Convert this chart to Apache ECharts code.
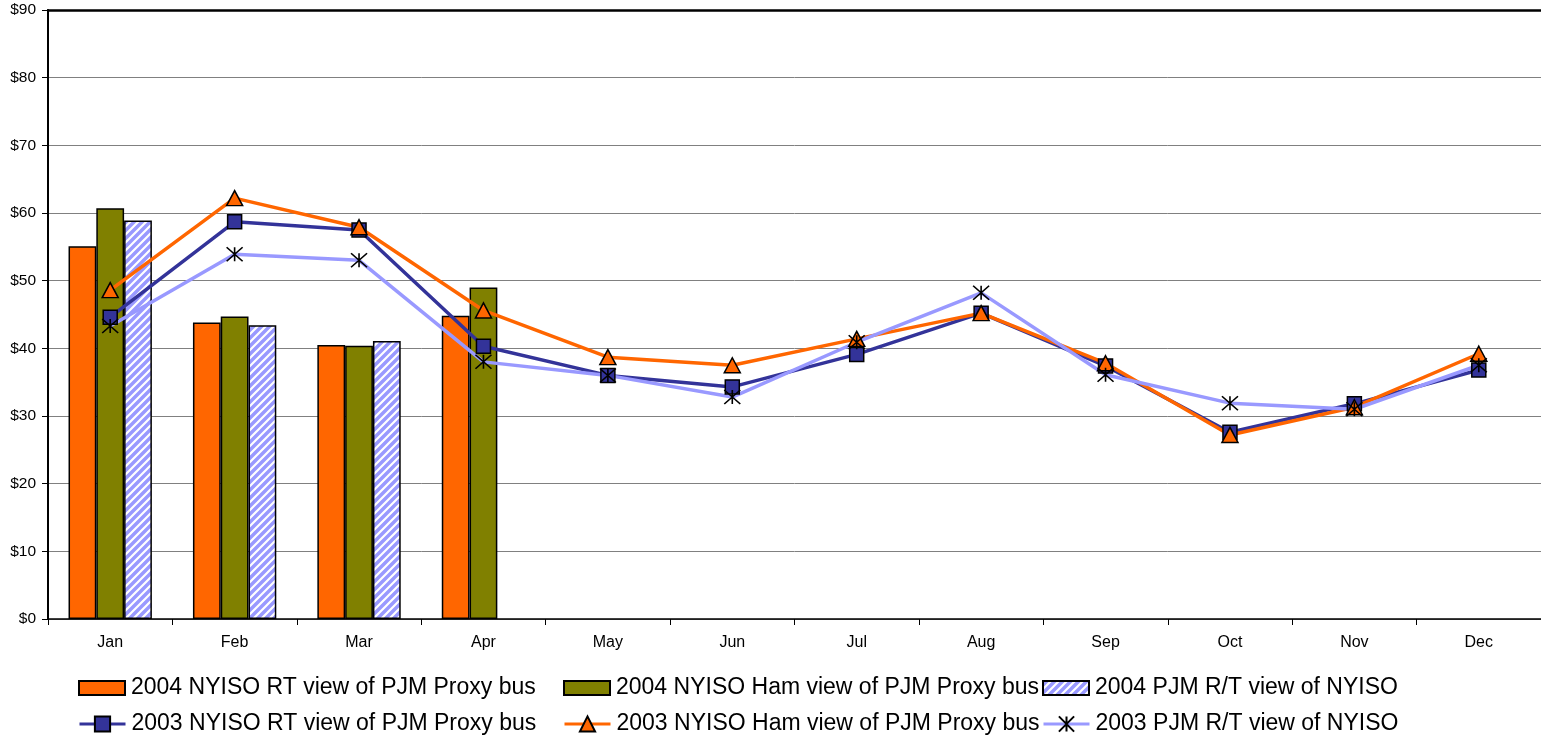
<!DOCTYPE html>
<html>
<head>
<meta charset="utf-8">
<script src="https://cdn.jsdelivr.net/npm/echarts@6/dist/echarts.min.js"></script>
<style>
html,body{margin:0;padding:0;background:#fff;}
#chart{width:1541px;height:740px;}
</style>
</head>
<body>
<div id="chart"></div>
<script>
var months = ['Jan','Feb','Mar','Apr','May','Jun','Jul','Aug','Sep','Oct','Nov','Dec'];
var yTicks = [0,10,20,30,40,50,60,70,80,90];

var rt2004 = [55.1, 43.8, 40.5, 44.8, null, null, null, null, null, null, null, null];
var ham2004 = [60.7, 44.7, 40.4, 49.0, null, null, null, null, null, null, null, null];
var pjm2004 = [58.9, 43.4, 41.1, null, null, null, null, null, null, null, null, null];

var rt2003 = [44.6, 58.7, 57.5, 40.3, 36.0, 34.3, 39.1, 45.2, 37.4, 27.6, 31.8, 36.8];
var ham2003 = [48.6, 62.2, 57.9, 45.6, 38.7, 37.5, 41.4, 45.2, 37.8, 27.2, 31.3, 39.2];
var pjm2003 = [43.3, 53.9, 53.0, 38.0, 36.0, 32.8, 40.9, 48.2, 36.1, 31.9, 31.0, 37.5];

var names = [
  '2004 NYISO RT view of PJM Proxy bus',
  '2004 NYISO Ham view of PJM Proxy bus',
  '2004 PJM R/T view of NYISO',
  '2003 NYISO RT view of PJM Proxy bus',
  '2003 NYISO Ham view of PJM Proxy bus',
  '2003 PJM R/T view of NYISO'
];

function makeHatch(){
  var c = document.createElement('canvas');
  c.width = 8; c.height = 8;
  var ctx = c.getContext('2d');
  ctx.fillStyle = '#9999FF';
  ctx.fillRect(0,0,8,8);
  ctx.strokeStyle = '#FFFFFF';
  ctx.lineWidth = 2.2;
  ctx.beginPath();
  [0, 8, 16].forEach(function(k){
    ctx.moveTo(k + 2, -2);
    ctx.lineTo(k - 10, 10);
  });
  ctx.stroke();
  return c;
}
var hatch = {image: makeHatch(), repeat: 'repeat'};

var FONT = "'Liberation Sans', Arial, sans-serif";
var starPath = 'path://M0,0L16,14M16,0L0,14M8,0L8,14';

var legendPos = [
  {left: 78, top: 676}, {left: 563, top: 676}, {left: 1042, top: 676},
  {left: 78, top: 712}, {left: 563, top: 712}, {left: 1042, top: 712}
];
var legends = names.map(function(n, i){
  var isBar = i < 3;
  return {
    orient: 'horizontal',
    left: legendPos[i].left,
    top: legendPos[i].top,
    padding: 0,
    itemWidth: 46,
    itemHeight: isBar ? 14 : 19,
    selectedMode: false,
    icon: isBar ? 'rect' : undefined,
    lineStyle: isBar ? undefined : {width: 3},
    textStyle: {fontFamily: FONT, fontSize: 23, color: '#000', lineHeight: 24, padding: [0, 0, 0, 1]},
    data: [n]
  };
});

var chart = echarts.init(document.getElementById('chart'), null, {renderer: 'canvas'});
chart.setOption({
  animation: false,
  backgroundColor: '#fff',
  grid: {left: 48, right: 0, top: 10, bottom: 121},
  legend: legends,
  xAxis: [{
    type: 'category',
    data: months,
    boundaryGap: true,
    axisLine: {lineStyle: {color: '#000', width: 1.5}},
    axisTick: {show: true, length: 6, lineStyle: {color: '#000'}},
    axisLabel: {fontFamily: FONT, fontSize: 16, color: '#000', margin: 16}
  }, {
    type: 'category',
    data: months,
    position: 'top',
    axisLine: {lineStyle: {color: '#000', width: 2.5}},
    axisTick: {show: false},
    axisLabel: {show: false}
  }],
  yAxis: {
    type: 'value',
    min: yTicks[0],
    max: yTicks[yTicks.length - 1],
    interval: 10,
    axisLine: {show: true, lineStyle: {color: '#000', width: 2}},
    axisTick: {show: true, length: 6, lineStyle: {color: '#000'}},
    splitLine: {lineStyle: {color: '#808080', width: 1}},
    axisLabel: {fontFamily: FONT, fontSize: 15.5, color: '#000', margin: 12, formatter: function(v){ return '$' + v; }}
  },
  series: [
    {name: names[0], type: 'bar', data: rt2004, barGap: '0%', barCategoryGap: '33%',
     itemStyle: {color: '#FF6600', borderColor: '#000', borderWidth: 1.5}},
    {name: names[1], type: 'bar', data: ham2004,
     itemStyle: {color: '#808000', borderColor: '#000', borderWidth: 1.5}},
    {name: names[2], type: 'bar', data: pjm2004,
     itemStyle: {color: hatch, borderColor: '#000', borderWidth: 1.5}},
    {name: names[3], type: 'line', data: rt2003, symbol: 'rect', symbolSize: 14,
     lineStyle: {color: '#333399', width: 3.5},
     itemStyle: {color: '#333399', borderColor: '#000', borderWidth: 1.5}},
    {name: names[4], type: 'line', data: ham2003, symbol: 'triangle', symbolSize: [16, 15],
     lineStyle: {color: '#FF6600', width: 3.5},
     itemStyle: {color: '#FF6600', borderColor: '#000', borderWidth: 1.5}},
    {name: names[5], type: 'line', data: pjm2003, symbol: starPath, symbolSize: [16, 14],
     lineStyle: {color: '#9999FF', width: 3.5},
     itemStyle: {color: 'rgba(0,0,0,0)', borderColor: '#000', borderWidth: 1.5}}
  ]
});
</script>
</body>
</html>
